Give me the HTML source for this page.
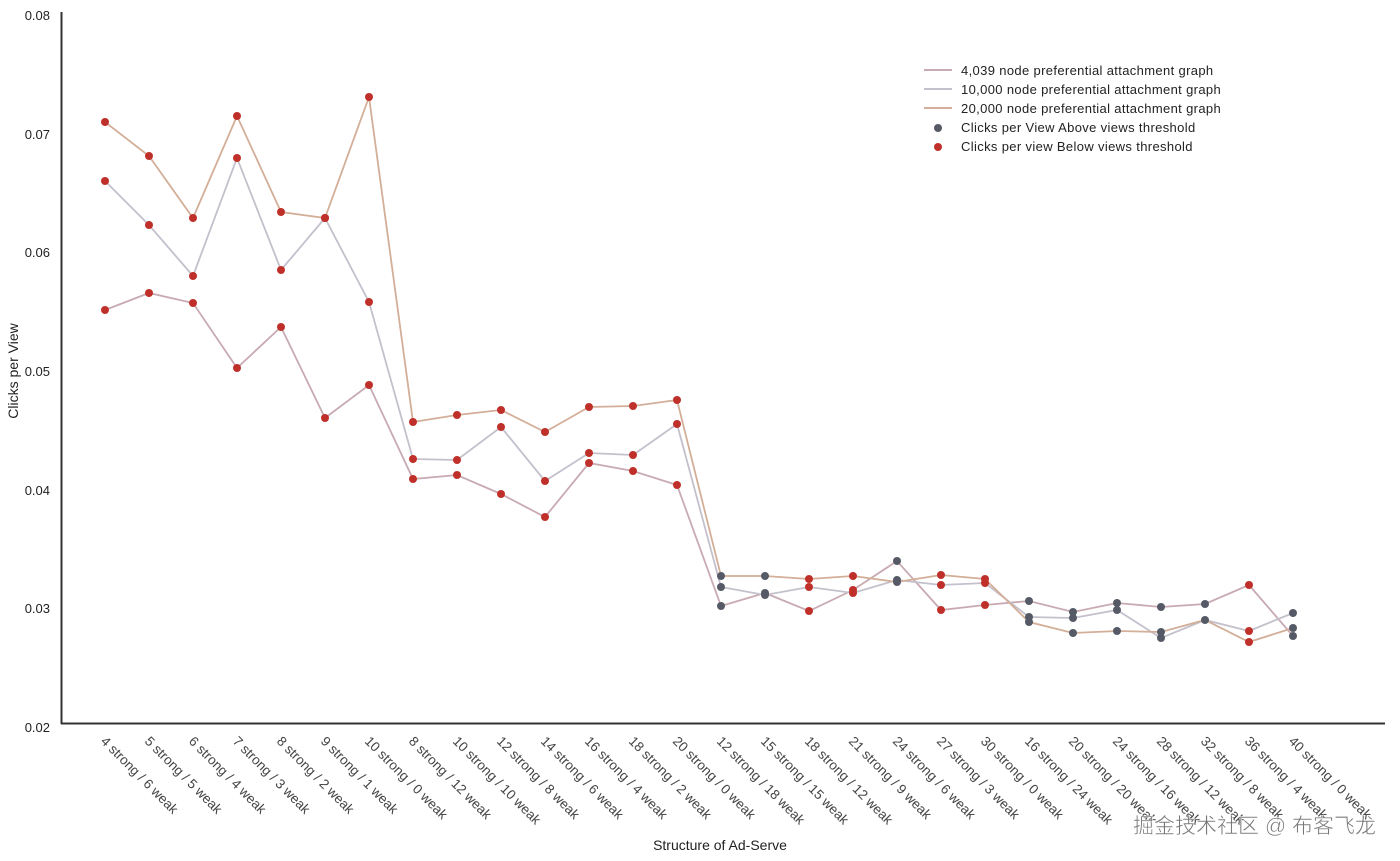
<!DOCTYPE html>
<html><head><meta charset="utf-8"><style>
body{margin:0;background:#fff;}
svg{display:block;font-family:"Liberation Sans","Noto Sans CJK SC",sans-serif;}
</style></head><body>
<svg width="1400" height="861" viewBox="0 0 1400 861" xmlns="http://www.w3.org/2000/svg">
<rect width="1400" height="861" fill="#fff"/>
<g fill="#222" font-size="13" text-anchor="end">
<text x="50" y="20">0.08</text>
<text x="50" y="139">0.07</text>
<text x="50" y="257">0.06</text>
<text x="50" y="376">0.05</text>
<text x="50" y="495">0.04</text>
<text x="50" y="613">0.03</text>
<text x="50" y="732">0.02</text>
</g>
<text transform="translate(18,371) rotate(-90)" text-anchor="middle" font-size="14" fill="#222">Clicks per View</text>
<line x1="61.5" y1="12" x2="61.5" y2="724" stroke="#333" stroke-width="2"/>
<line x1="61" y1="723.5" x2="1385" y2="723.5" stroke="#333" stroke-width="2"/>
<g fill="none" stroke-width="1.8">
<polyline stroke="#c8aab2" points="105,310 149,293 193,303 237,368 281,327 325,418 369,385 413,479 457,475 501,494 545,517 589,463 633,471 677,485 721,606 765,593 809,611 853,590 897,561 941,610 985,605 1029,601 1073,612 1117,603 1161,607 1205,604 1249,585 1293,636"/>
<polyline stroke="#c4c0cc" points="105,181 149,225 193,276 237,158 281,270 325,218 369,302 413,459 457,460 501,427 545,481 589,453 633,455 677,424 721,587 765,595 809,587 853,593 897,580 941,585 985,583 1029,617 1073,618 1117,610 1161,638 1205,620 1249,631 1293,613"/>
<polyline stroke="#d3ae98" points="105,122 149,156 193,218 237,116 281,212 325,218 369,97 413,422 457,415 501,410 545,432 589,407 633,406 677,400 721,576 765,576 809,579 853,576 897,582 941,575 985,579 1029,622 1073,633 1117,631 1161,632 1205,620 1249,642 1293,628"/>
</g>
<g fill="#c0302a">
<circle cx="105" cy="310" r="4"/><circle cx="149" cy="293" r="4"/><circle cx="193" cy="303" r="4"/><circle cx="237" cy="368" r="4"/><circle cx="281" cy="327" r="4"/><circle cx="325" cy="418" r="4"/><circle cx="369" cy="385" r="4"/><circle cx="413" cy="479" r="4"/><circle cx="457" cy="475" r="4"/><circle cx="501" cy="494" r="4"/><circle cx="545" cy="517" r="4"/><circle cx="589" cy="463" r="4"/><circle cx="633" cy="471" r="4"/><circle cx="677" cy="485" r="4"/>
<circle cx="105" cy="181" r="4"/><circle cx="149" cy="225" r="4"/><circle cx="193" cy="276" r="4"/><circle cx="237" cy="158" r="4"/><circle cx="281" cy="270" r="4"/><circle cx="325" cy="218" r="4"/><circle cx="369" cy="302" r="4"/><circle cx="413" cy="459" r="4"/><circle cx="457" cy="460" r="4"/><circle cx="501" cy="427" r="4"/><circle cx="545" cy="481" r="4"/><circle cx="589" cy="453" r="4"/><circle cx="633" cy="455" r="4"/><circle cx="677" cy="424" r="4"/>
<circle cx="105" cy="122" r="4"/><circle cx="149" cy="156" r="4"/><circle cx="193" cy="218" r="4"/><circle cx="237" cy="116" r="4"/><circle cx="281" cy="212" r="4"/><circle cx="325" cy="218" r="4"/><circle cx="369" cy="97" r="4"/><circle cx="413" cy="422" r="4"/><circle cx="457" cy="415" r="4"/><circle cx="501" cy="410" r="4"/><circle cx="545" cy="432" r="4"/><circle cx="589" cy="407" r="4"/><circle cx="633" cy="406" r="4"/><circle cx="677" cy="400" r="4"/>
<circle cx="809" cy="611" r="4"/><circle cx="809" cy="587" r="4"/><circle cx="809" cy="579" r="4"/>
<circle cx="853" cy="590" r="4"/><circle cx="853" cy="593" r="4"/><circle cx="853" cy="576" r="4"/>
<circle cx="941" cy="610" r="4"/><circle cx="941" cy="585" r="4"/><circle cx="941" cy="575" r="4"/>
<circle cx="985" cy="605" r="4"/><circle cx="985" cy="583" r="4"/><circle cx="985" cy="579" r="4"/>
<circle cx="1249" cy="585" r="4"/><circle cx="1249" cy="631" r="4"/><circle cx="1249" cy="642" r="4"/>
</g>
<g fill="#555a66">
<circle cx="721" cy="606" r="4"/><circle cx="721" cy="587" r="4"/><circle cx="721" cy="576" r="4"/>
<circle cx="765" cy="593" r="4"/><circle cx="765" cy="595" r="4"/><circle cx="765" cy="576" r="4"/>
<circle cx="897" cy="561" r="4"/><circle cx="897" cy="580" r="4"/><circle cx="897" cy="582" r="4"/>
<circle cx="1029" cy="601" r="4"/><circle cx="1029" cy="617" r="4"/><circle cx="1029" cy="622" r="4"/>
<circle cx="1073" cy="612" r="4"/><circle cx="1073" cy="618" r="4"/><circle cx="1073" cy="633" r="4"/>
<circle cx="1117" cy="603" r="4"/><circle cx="1117" cy="610" r="4"/><circle cx="1117" cy="631" r="4"/>
<circle cx="1161" cy="607" r="4"/><circle cx="1161" cy="638" r="4"/><circle cx="1161" cy="632" r="4"/>
<circle cx="1205" cy="604" r="4"/><circle cx="1205" cy="620" r="4"/>
<circle cx="1293" cy="636" r="4"/><circle cx="1293" cy="613" r="4"/><circle cx="1293" cy="628" r="4"/>
</g>
<g fill="#444" font-size="13.5">
<text transform="translate(100,742) rotate(45)">4 strong / 6 weak</text>
<text transform="translate(144,742) rotate(45)">5 strong / 5 weak</text>
<text transform="translate(188,742) rotate(45)">6 strong / 4 weak</text>
<text transform="translate(232,742) rotate(45)">7 strong / 3 weak</text>
<text transform="translate(276,742) rotate(45)">8 strong / 2 weak</text>
<text transform="translate(320,742) rotate(45)">9 strong / 1 weak</text>
<text transform="translate(364,742) rotate(45)">10 strong / 0 weak</text>
<text transform="translate(408,742) rotate(45)">8 strong / 12 weak</text>
<text transform="translate(452,742) rotate(45)">10 strong / 10 weak</text>
<text transform="translate(496,742) rotate(45)">12 strong / 8 weak</text>
<text transform="translate(540,742) rotate(45)">14 strong / 6 weak</text>
<text transform="translate(584,742) rotate(45)">16 strong / 4 weak</text>
<text transform="translate(628,742) rotate(45)">18 strong / 2 weak</text>
<text transform="translate(672,742) rotate(45)">20 strong / 0 weak</text>
<text transform="translate(716,742) rotate(45)">12 strong / 18 weak</text>
<text transform="translate(760,742) rotate(45)">15 strong / 15 weak</text>
<text transform="translate(804,742) rotate(45)">18 strong / 12 weak</text>
<text transform="translate(848,742) rotate(45)">21 strong / 9 weak</text>
<text transform="translate(892,742) rotate(45)">24 strong / 6 weak</text>
<text transform="translate(936,742) rotate(45)">27 strong / 3 weak</text>
<text transform="translate(980,742) rotate(45)">30 strong / 0 weak</text>
<text transform="translate(1024,742) rotate(45)">16 strong / 24 weak</text>
<text transform="translate(1068,742) rotate(45)">20 strong / 20 weak</text>
<text transform="translate(1112,742) rotate(45)">24 strong / 16 weak</text>
<text transform="translate(1156,742) rotate(45)">28 strong / 12 weak</text>
<text transform="translate(1200,742) rotate(45)">32 strong / 8 weak</text>
<text transform="translate(1244,742) rotate(45)">36 strong / 4 weak</text>
<text transform="translate(1288,742) rotate(45)">40 strong / 0 weak</text>
</g>
<text x="720" y="850" text-anchor="middle" font-size="14" fill="#222">Structure of Ad-Serve</text>
<g font-size="13" fill="#222" letter-spacing="0.35">
<line x1="924" y1="70" x2="952" y2="70" stroke="#c8aab2" stroke-width="2"/>
<text x="961" y="75">4,039 node preferential attachment graph</text>
<line x1="924" y1="89" x2="952" y2="89" stroke="#c4c0cc" stroke-width="2"/>
<text x="961" y="94">10,000 node preferential attachment graph</text>
<line x1="924" y1="108" x2="952" y2="108" stroke="#d3ae98" stroke-width="2"/>
<text x="961" y="113">20,000 node preferential attachment graph</text>
<circle cx="938" cy="128" r="4" fill="#555a66"/>
<text x="961" y="132">Clicks per View Above views threshold</text>
<circle cx="938" cy="147" r="4" fill="#c0302a"/>
<text x="961" y="151">Clicks per view Below views threshold</text>
</g>
<text x="1376" y="833" text-anchor="end" font-size="21" fill="#777" stroke="#fff" stroke-width="0.5">掘金技术社区 @ 布客飞龙</text>
</svg>
</body></html>
